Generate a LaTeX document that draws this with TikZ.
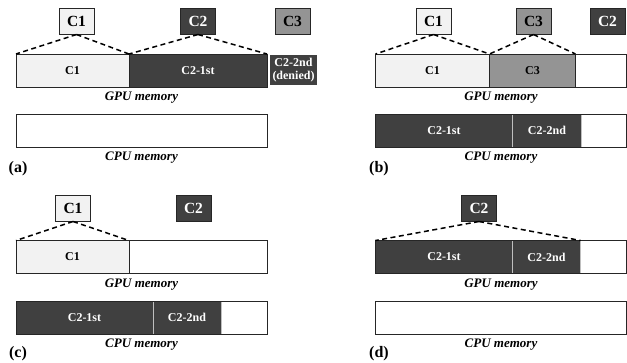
\documentclass[tikz,border=0pt]{standalone}
\usepackage{fontspec}
\setmainfont{Liberation Serif}
\usetikzlibrary{positioning}
\definecolor{clight}{rgb}{0.95,0.95,0.95}
\definecolor{cdark}{rgb}{0.25,0.25,0.25}
\definecolor{cmid}{rgb}{0.58,0.58,0.58}
\definecolor{cline}{rgb}{0.15,0.15,0.15}
\tikzstyle{chunk} = [draw=cline, line width=1pt, minimum width=35pt, minimum height=26pt, inner sep=0pt, font=\bfseries\fontsize{15.5}{15.5}\selectfont]
\tikzstyle{seg} = [minimum height=33pt, inner sep=0pt, outer sep=0pt, font=\bfseries\fontsize{12}{12}\selectfont]
\tikzstyle{darkseg} = [seg, fill=cdark, text=white, draw=white!75!black, line width=0.7pt]
\tikzstyle{membar} = [draw=cline, line width=1pt, minimum width=251pt, minimum height=33pt, inner sep=0pt, outer sep=0pt]
\tikzstyle{memlabel} = [font=\bfseries\itshape\fontsize{13}{13}\selectfont]
\tikzstyle{tag} = [font=\bfseries\fontsize{16}{16}\selectfont]
\tikzstyle{link} = [line width=1.5pt, dash pattern=on 5pt off 3.5pt]
\begin{document}
\begin{tikzpicture}[x=1pt,y=-1pt]
      \useasboundingbox (0,0) rectangle (627,362);
      % (a)
      \node[chunk, fill=clight] (c1a) at (76.5,21) {C1};
      \node[chunk, fill=cdark, text=white] (c2a) at (198,21) {C2};
      \node[chunk, fill=cmid] (c3a) at (292.5,21) {C3};
      \coordinate (gpua) at (16,70.5);
      \node[seg, fill=clight, minimum width=113pt, anchor=west] (a1) at (gpua) {C1};
      \node[darkseg, minimum width=138pt, right=0pt of a1] (a2) {C2-1st};
      \node[membar, anchor=west] (bga) at (gpua) {};
      \draw[cline, line width=1pt] (a1.north east) -- (a1.south east);
      \node[seg, fill=cdark, text=white, minimum width=47pt, minimum height=30pt, align=center, font=\bfseries\fontsize{12}{13.5}\selectfont] (a3) at (293.5,70) {C2-2nd\\(denied)};
      \draw[link] (c1a.south) -- (a1.north west);
      \draw[link] (c1a.south) -- (a1.north east);
      \draw[link] (c2a.south) -- (a2.north west);
      \draw[link] (c2a.south) -- (a2.north east);
      \node[memlabel] (ga) at (141.5,98) {GPU memory};
      \node[membar] (bca) at (141.5,130.5) {};
      \node[memlabel] (ca) at (141.5,158) {CPU memory};
      \node[tag] (ta) at (18,169) {(a)};
      % (b)
      \node[chunk, fill=clight] (c1b) at (433.5,21) {C1};
      \node[chunk, fill=cmid] (c3b) at (533.5,21) {C3};
      \node[chunk, fill=cdark, text=white] (c2b) at (607.5,21) {C2};
      \coordinate (gpub) at (375.5,70.5);
      \node[seg, fill=clight, minimum width=114pt, anchor=west] (b1) at (gpub) {C1};
      \node[seg, fill=cmid, minimum width=86pt, right=0pt of b1] (b2) {C3};
      \node[membar, anchor=west] (bgb) at (gpub) {};
      \draw[cline, line width=1pt] (b1.north east) -- (b1.south east);
      \draw[cline, line width=1pt] (b2.north east) -- (b2.south east);
      \draw[link] (c1b.south) -- (b1.north west);
      \draw[link] (c1b.south) -- (b1.north east);
      \draw[link] (c3b.south) -- (b2.north west);
      \draw[link] (c3b.south) -- (b2.north east);
      \node[memlabel] (gb) at (501,98) {GPU memory};
      \coordinate (cpub) at (375.5,130.5);
      \node[darkseg, minimum width=137pt, anchor=west] (b3) at (cpub) {C2-1st};
      \node[darkseg, minimum width=69pt, right=0pt of b3] (b4) {C2-2nd};
      \node[membar, anchor=west] (bcb) at (cpub) {};
      \node[memlabel] (cb) at (501,158) {CPU memory};
      \node[tag] (tb) at (379,169) {(b)};
      % (c)
      \node[chunk, fill=clight] (c1c) at (73,208) {C1};
      \node[chunk, fill=cdark, text=white] (c2c) at (193.5,208) {C2};
      \coordinate (gpuc) at (16,257);
      \node[seg, fill=clight, minimum width=113pt, anchor=west] (d1) at (gpuc) {C1};
      \node[membar, anchor=west] (bgc) at (gpuc) {};
      \draw[cline, line width=1pt] (d1.north east) -- (d1.south east);
      \draw[link] (c1c.south) -- (d1.north west);
      \draw[link] (c1c.south) -- (d1.north east);
      \node[memlabel] (gc) at (141.5,285) {GPU memory};
      \coordinate (cpuc) at (16,317.5);
      \node[darkseg, minimum width=137pt, anchor=west] (d2) at (cpuc) {C2-1st};
      \node[darkseg, minimum width=68pt, right=0pt of d2] (d3) {C2-2nd};
      \node[membar, anchor=west] (bcc) at (cpuc) {};
      \node[memlabel] (cc) at (141.5,345) {CPU memory};
      \node[tag] (tc) at (18,354) {(c)};
      % (d)
      \node[chunk, fill=cdark, text=white] (c2d) at (479,208) {C2};
      \coordinate (gpud) at (375.5,257);
      \node[darkseg, minimum width=137pt, anchor=west] (e1) at (gpud) {C2-1st};
      \node[darkseg, minimum width=68pt, right=0pt of e1] (e2) {C2-2nd};
      \node[membar, anchor=west] (bgd) at (gpud) {};
      \draw[link] (c2d.south) -- (e1.north west);
      \draw[link] (c2d.south) -- (e2.north east);
      \node[memlabel] (gd) at (501,285) {GPU memory};
      \node[membar] (bcd) at (501,317.5) {};
      \node[memlabel] (cd) at (501,345) {CPU memory};
      \node[tag] (td) at (379,354) {(d)};
\end{tikzpicture}
\end{document}
